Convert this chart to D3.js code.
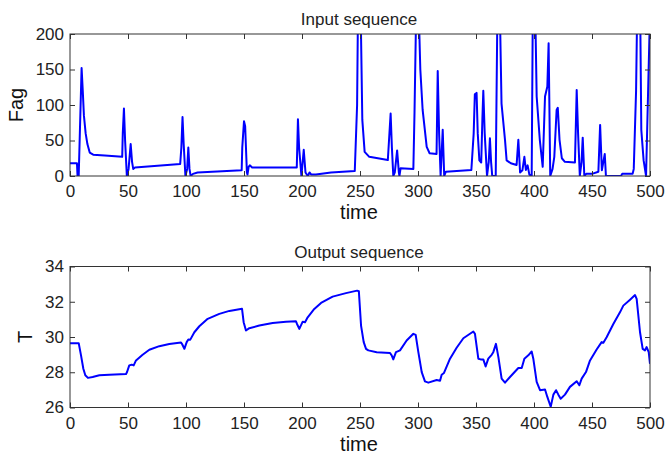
<!DOCTYPE html>
<html>
<head>
<meta charset="utf-8">
<script src="https://cdn.jsdelivr.net/npm/d3@7"></script>
<style>
    body { margin: 0; background: #fff; }
    text { font-family: "Liberation Sans", Arial, sans-serif; }
</style>
</head>
<body>
<svg id="chart"></svg>
<script>
let width = 666, height = 453

// input sequence (Fag), peaks above 200 are clipped by the axes
let fag_time = [0, 6, 6.5, 7.5, 10, 11, 12, 13.5, 15, 17, 20, 30, 45, 45.5, 46.5, 47.5, 49, 50.5, 52.3, 53.5, 54.5, 56, 95,
    96, 97, 98, 99.5, 101, 102, 103, 104, 106, 110, 148, 148.5, 150, 151, 152.5, 153, 154, 155, 157, 195.5,
    196.5, 197.5, 199.5, 201.5, 203, 205, 206.5, 208, 212, 225, 245.5, 247.5, 248.3, 250.5, 252, 254, 258, 274,
    275, 276.4, 277.5, 278.7, 280, 282, 283.5, 284, 285, 296, 297, 298.5, 300.5, 302, 304, 307.5, 310, 316,
    317, 318.2, 319.5, 321.3, 322.6, 324, 346, 348, 349, 350.5, 351.5, 352.9, 354.5, 355.5, 356.3, 357.5, 359.5,
    361, 362, 363, 364, 367, 368.5, 370.5, 372, 375, 376.4, 380, 385, 386.5, 388, 390, 391.7, 393, 394.5, 396,
    398, 399, 401, 402.3, 405, 407.5, 409.5, 411.5, 412.6, 414, 416, 417.5, 419.5, 420.5, 422, 424, 426.6, 435.3,
    436.8, 438, 439.5, 441, 442, 443.4, 445, 450, 455.5, 457, 458.5, 461, 462, 475, 476, 485, 486, 488, 489,
    491.5, 492.5, 494.5, 496.6, 500]
let fag_value = [18, 18, 0, 0, 152, 120, 85, 60, 45, 33, 30, 29, 27, 60, 95, 50, 0, 10, 45, 20, 10, 12, 17,
    40, 83, 45, 0, 10, 40, 10, 0, 3, 5, 8, 40, 77, 70, 5, 2, 13, 15, 12, 12,
    80, 40, 0, 37, 5, 0, 5, 2, 2, 5, 7, 100, 240, 240, 79, 34, 27, 22.5,
    50, 88, 40, 0, 5, 36, 5, 0, 11, 10, 90, 240, 240, 150, 93, 41, 32, 31,
    148, 60, 0, 65, 0, 6, 8.5, 60, 115, 117, 60, 22, 19, 80, 120, 60, 0,
    20, 53, 20, 0, 0, 240, 240, 102, 51, 22, 18, 15.5, 51, 5, 8, 27, 8.5, 15, 2,
    0, 240, 240, 112, 51, 13, 112, 126, 187, 0, 10, 27, 93, 96, 51, 25, 20, 19,
    121, 60, 0, 20, 54, 0, 3, 3, 6, 72, 8, 31, 0, 0, 3, 3, 10, 120, 240,
    240, 65, 22, 0, 230]

// output sequence (T)
let t_time = [0, 7.5, 9.5, 11.5, 13.2, 15.5, 19.5, 25.3, 33.9, 48.3, 49.1, 51.1, 53.2, 54.9, 56.9, 62.6, 68.4,
    77, 85.6, 95.7, 96.6, 98.6, 100.6, 102, 103.7, 107.2, 111.5, 118.7, 128.7, 137.4, 148.3, 149.7, 151.7,
    154.6, 163.2, 174.7, 186.2, 194.8, 195.7, 197.7, 200.6, 202.6, 204.9, 210.6, 216.4, 226.4, 237.9, 247.5,
    249, 250.9, 253.2, 255.2, 257.2, 264.4, 275.9, 277.3, 278.7, 281, 284.5, 290.2, 296, 298, 300.3, 303.2,
    306, 308.9, 316.1, 319, 320.4, 322.4, 327.6, 333.3, 339.1, 347.7, 349.1, 352, 354, 356.3, 358.3, 360.6,
    363.5, 364.9, 367.2, 369.3, 372.1, 375, 379.3, 386.5, 389.4, 391.7, 395.1, 398, 399.4, 402.3, 405.2, 409.5,
    411.5, 414.4, 416.7, 419, 421, 423, 426.7, 431, 436.8, 439.1, 441.1, 444.8, 448.3, 454, 458.3, 459.8,
    462.6, 468.4, 474.1, 477, 482.8, 487.1, 488.5, 491.4, 493.7, 495.7, 497.1, 498.9, 500]
let t_value = [29.65, 29.65, 28.96, 28.2, 27.83, 27.68, 27.73, 27.83, 27.86, 27.9, 28.0, 28.39, 28.43, 28.39, 28.67, 28.99, 29.28,
    29.48, 29.6, 29.69, 29.6, 29.33, 29.71, 29.86, 29.85, 30.27, 30.61, 31.03, 31.31, 31.48, 31.6, 30.84, 30.37,
    30.5, 30.65, 30.8, 30.87, 30.89, 30.74, 30.46, 30.87, 30.84, 31.12, 31.59, 31.93, 32.29, 32.49, 32.63,
    32.6, 30.65, 29.71, 29.33, 29.24, 29.14, 29.09, 28.96, 28.73, 29.14, 29.24, 29.8, 30.18, 30.12, 29.14, 28.01,
    27.48, 27.41, 27.56, 27.52, 27.86, 27.96, 28.77, 29.39, 29.93, 30.31, 30.18, 28.77, 28.73, 28.73, 28.33, 28.77,
    28.99, 29.14, 29.61, 28.86, 27.64, 27.41, 27.73, 28.24, 28.24, 28.77, 28.96, 29.18, 28.77, 27.45, 26.98, 27.02,
    26.6, 26.04, 26.73, 26.98, 26.73, 26.5, 26.73, 27.17, 27.49, 27.26, 27.64, 28.01, 28.67, 29.29, 29.71, 29.67,
    29.99, 30.74, 31.4, 31.78, 32.12, 32.38, 32.16, 30.27, 29.33, 29.24, 29.43, 29.14, 28.48]

let time_ticks = [0, 50, 100, 150, 200, 250, 300, 350, 400, 450, 500]
let fag_ticks = [0, 50, 100, 150, 200]
let t_ticks = [26, 28, 30, 32, 34]

let svg = d3.select('#chart')
    .attr("width", width)
    .attr("height", height)

function panel(opts) {
    let x = d3.scaleLinear().domain([0, 500]).range([70, 650])
    let y = d3.scaleLinear().domain(opts.ydomain).range([opts.bottom, opts.top])
    let g = svg.append("g")

    g.append("clipPath").attr("id", opts.id)
        .append("rect")
        .attr("x", 70).attr("y", opts.top)
        .attr("width", 580).attr("height", opts.bottom - opts.top)

    let pts = opts.xs.map((d, i) => [d, opts.ys[i]])
    g.append("path")
        .datum(pts)
        .attr("clip-path", "url(#" + opts.id + ")")
        .attr("fill", "none")
        .attr("stroke", "#0000ff")
        .attr("stroke-width", 2)
        .attr("stroke-linejoin", "round")
        .attr("d", d3.line().x(d => x(d[0])).y(d => y(d[1])))

    let style_axis = a => {
        a.select(".domain").remove()
        a.selectAll("line").attr("stroke", "#333")
        a.selectAll("text").attr("fill", "#222").style("font-size", "17px")
    }

    g.append("g").attr("transform", "translate(0," + opts.bottom + ")")
        .call(d3.axisBottom(x).tickValues(time_ticks).tickSizeInner(-5).tickSizeOuter(0).tickPadding(9))
        .call(style_axis)
    g.append("g").attr("transform", "translate(0," + opts.top + ")")
        .call(d3.axisTop(x).tickValues(time_ticks).tickSizeInner(-5).tickSizeOuter(0).tickFormat(""))
        .call(style_axis)
    g.append("g").attr("transform", "translate(70,0)")
        .call(d3.axisLeft(y).tickValues(opts.yticks).tickSizeInner(-5).tickSizeOuter(0).tickPadding(6))
        .call(style_axis)
    g.append("g").attr("transform", "translate(650,0)")
        .call(d3.axisRight(y).tickValues(opts.yticks).tickSizeInner(-5).tickSizeOuter(0).tickFormat(""))
        .call(style_axis)

    g.append("rect")
        .attr("x", 70).attr("y", opts.top)
        .attr("width", 580).attr("height", opts.bottom - opts.top)
        .attr("fill", "none")
        .attr("stroke", "#333")
        .attr("stroke-width", 1)

    g.append("text")
        .attr("x", 359).attr("y", opts.top - 9)
        .attr("text-anchor", "middle")
        .attr("fill", "#222")
        .style("font-size", "17px")
        .text(opts.title)

    g.append("text")
        .attr("x", 359).attr("y", opts.bottom + 43)
        .attr("text-anchor", "middle")
        .attr("fill", "#111")
        .style("font-size", "20px")
        .text("time")

    g.append("text")
        .attr("transform", "translate(" + opts.ylabel_x + "," + (opts.top + opts.bottom) / 2 + ") rotate(-90)")
        .attr("text-anchor", "middle")
        .attr("fill", "#111")
        .style("font-size", "20px")
        .text(opts.ylabel)
}

panel({ id: "clip1", top: 34, bottom: 176, ydomain: [0, 200], yticks: fag_ticks,
    xs: fag_time, ys: fag_value, title: "Input sequence", ylabel: "Fag", ylabel_x: 23 })
panel({ id: "clip2", top: 266.5, bottom: 407.5, ydomain: [26, 34], yticks: t_ticks,
    xs: t_time, ys: t_value, title: "Output sequence", ylabel: "T", ylabel_x: 32 })
</script>
</body>
</html>
